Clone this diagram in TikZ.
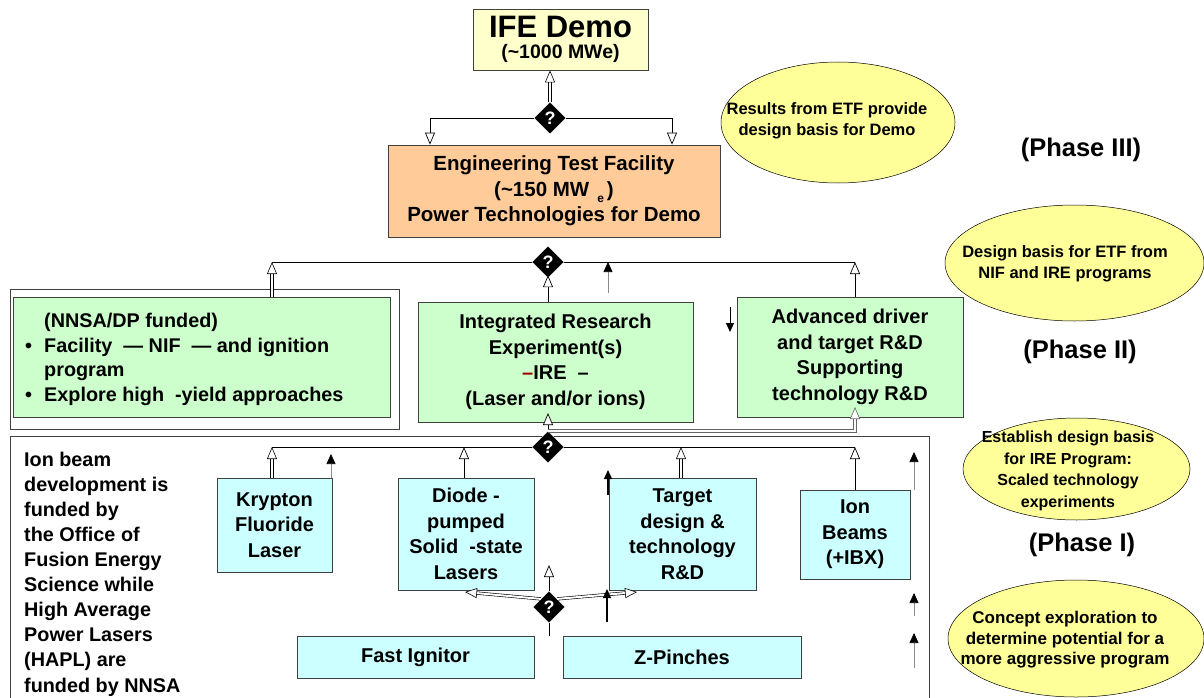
\documentclass[tikz,border=0pt]{standalone}
\usepackage{fontspec}
\setmainfont{Liberation Sans}
\usetikzlibrary{arrows.meta,shapes.geometric}
\definecolor{demoY}{HTML}{FFFFCC}
\definecolor{etfO}{HTML}{FFCC99}
\definecolor{grn}{HTML}{CCFFCC}
\definecolor{cyn}{HTML}{CCFFFF}
\definecolor{ellY}{HTML}{FFFF99}
\definecolor{dkred}{HTML}{990000}
\newcommand{\fsz}[2]{\fontsize{#1}{#2}\selectfont\bfseries}
\begin{document}
\begin{tikzpicture}[x=1pt,y=-1pt,
  box/.style={draw=black!75, line width=0.8pt, inner sep=0pt, align=center, font=\fsz{20}{25.5}},
  frame/.style={draw=black!75, line width=0.8pt, inner sep=0pt},
  ell/.style={ellipse, draw=black, line width=0.5pt, fill=ellY, inner sep=0pt},
  elltxt/.style={inner sep=0pt, align=center, font=\fsz{16.5}{20.5}},
  qd/.style={diamond, aspect=1, fill=black, draw=white, line width=0.4pt, minimum width=32pt, minimum height=32pt, inner sep=0pt, text=white, font=\fsz{18}{18}},
  phase/.style={font=\fsz{25.5}{25.5}, inner sep=0pt},
  txt/.style={inner sep=0pt, align=left, font=\fsz{19.8}{25.1}},
  ln/.style={draw=black, line width=0.7pt},
  hol/.style={ln, -{Triangle[fill=white, length=12pt, width=10pt]}},
  dbl/.style={hol, double, double distance=2pt, line width=0.6pt},
  sm/.style={draw=black!45, line width=0.6pt, -{Triangle[color=black, length=10pt, width=9pt]}},
  thk/.style={draw=black, line width=1.4pt, -{Triangle[length=9pt, width=8pt]}}
]
\useasboundingbox (0,0) rectangle (1204,698);
\fill[white] (0,0) rectangle (1204,698);

% ellipses
\node[ell, minimum width=234pt, minimum height=121pt] (e1) at (838,122.5) {};
\node[elltxt] (e1t) at (827,121) {Results from ETF provide\\design basis for Demo};
\node[ell, minimum width=259pt, minimum height=116pt] (e2) at (1074.5,263) {};
\node[elltxt] (e2t) at (1065,264) {Design basis for ETF from\\NIF and IRE programs};
\node[ell, minimum width=227pt, minimum height=102pt] (e3) at (1076.5,469) {};
\node[elltxt, font=\fsz{16}{21.5}] (e3t) at (1068,471) {Establish design basis\\for IRE Program:\\Scaled technology\\experiments};
\node[ell, minimum width=256pt, minimum height=117pt] (e4) at (1076,638.5) {};
\node[elltxt, font=\fsz{17}{20.5}] (e4t) at (1065,640) {Concept exploration to\\determine potential for a\\more aggressive program};

% phase labels
\node[phase] (p3) at (1081,150) {(Phase III)};
\node[phase] (p2) at (1080,352) {(Phase II)};
\node[phase] (p1) at (1082,545) {(Phase I)};

% frames
\node[frame, minimum width=389pt, minimum height=140pt] (nnsaframe) at (204.5,359) {};
\node[frame, minimum width=919pt, minimum height=276pt] (botframe) at (469.5,574) {};

% boxes
\node[box, fill=demoY, minimum width=175pt, minimum height=61pt] (demo) at (560.5,39.5)
  {{\fsz{31}{26}IFE Demo}\\[-4pt]{\fsz{19.5}{22}(\textasciitilde1000 MWe)}};
\node[box, fill=etfO, minimum width=332pt, minimum height=92pt, font=\fsz{20.5}{25.5}] (etf) at (554,191)
  {Engineering Test Facility\\(\textasciitilde150 MW\hspace{8pt}\raisebox{-6pt}{\fsz{12}{12}e}\hspace{3pt})\\Power Technologies for Demo};
\node[box, fill=grn, minimum width=377pt, minimum height=120pt] (nnsa) at (201.5,357) {};
\node[txt, font=\fsz{19.8}{24.5}, anchor=west] (nnsatxt) at (25,359.5)
  {\hspace*{19pt}(NNSA/DP funded)\\\makebox[19pt][l]{•}Facility \ — NIF \ — and ignition\\\hspace*{19pt}program\\\makebox[19pt][l]{•}Explore high \ -yield approaches};
\node[box, fill=grn, minimum width=275pt, minimum height=120pt] (ire) at (555.5,362)
  {Integrated Research\\Experiment(s)\\{\color{dkred}–}IRE \ –\\(Laser and/or ions)};
\node[box, fill=grn, minimum width=226pt, minimum height=120pt] (adv) at (850,357)
  {Advanced driver\\and target R\&D\\Supporting\\technology R\&D};

\node[txt, anchor=west] (ionfund) at (24,574)
  {Ion beam\\development is\\funded by\\the Office of\\Fusion Energy\\Science while\\High Average\\Power Lasers\\(HAPL) are\\funded by NNSA};

\node[box, fill=cyn, minimum width=115pt, minimum height=94pt] (kr) at (274.5,525) {Krypton\\Fluoride\\Laser};
\node[box, fill=cyn, minimum width=136pt, minimum height=112pt] (diode) at (466,534) {Diode -\\pumped\\Solid \ -state\\Lasers};
\node[box, fill=cyn, minimum width=147pt, minimum height=112pt] (target) at (682.5,534) {Target\\design \&\\technology\\R\&D};
\node[box, fill=cyn, minimum width=110pt, minimum height=89pt] (ion) at (855,534.5) {Ion\\Beams\\(+IBX)};
\node[box, fill=cyn, minimum width=237pt, minimum height=42pt] (fast) at (415.5,657) {Fast Ignitor};
\node[box, fill=cyn, minimum width=238pt, minimum height=42pt] (zp) at (682,657) {Z-Pinches};

% coordinates
\coordinate (L2) at (272,262);
\coordinate (R2) at (855,262);
\coordinate (L3) at (272,447);
\coordinate (R3) at (855,447);
\coordinate (D3) at (464,447);
\coordinate (T3) at (681,447);
\coordinate (ireIn) at (548,413);
\coordinate (c431) at (548,431);
\coordinate (advIn) at (855,407);

% horizontal bus lines
\draw[ln] (L2) -- (R2);
\draw[ln] (L3) -- (R3);

% diamonds
\node[qd] (d1) at (550,118) {?};
\node[qd] (d2) at (548,262) {?};
\node[qd] (d3) at (548,447) {?};
\node[qd] (d4) at (549,607) {?};

% top connectors
\draw[dbl] (d1.north) -- (d1.north |- demo.south);
\draw[hol] (d1.west) -| ([xshift=-124pt]etf.north);
\draw[hol] (d1.east) -| ([xshift=118pt]etf.north);

% phase II connectors
\draw[dbl] (L2 |- nnsa.north) -- (L2);
\draw[hol] (d2 |- ire.north) -- ([yshift=3pt]d2.south);
\draw[hol] (R2 |- adv.north) -- (R2);
\coordinate (s1a) at (608,293); \coordinate (s1b) at (608,262);
\draw[sm] (s1a) -- (s1b);
\coordinate (dn1) at (730,307); \coordinate (dn2) at (730,332);
\draw[draw=black, line width=1pt, -{Triangle[length=9pt, width=8pt]}] (dn1) -- (dn2);

% phase I connectors
\draw[hol] (d3.north) -- (ireIn);
\draw[dbl, draw=black!60] (c431) -| (advIn);
\draw[dbl] (L3 |- kr.north) -- (L3);
\draw[hol] (D3 |- diode.north) -- (D3);
\draw[dbl] (T3 |- target.north) -- (T3);
\draw[hol] (R3 |- ion.north) -- (R3);

\coordinate (s2a) at (331,478); \coordinate (s2b) at (331,454);
\draw[sm] (s2a) -- (s2b);
\coordinate (t1a) at (608,495); \coordinate (t1b) at (608,470);
\draw[thk] (t1a) -- (t1b);
\coordinate (s3a) at (914,490); \coordinate (s3b) at (914,452);
\draw[sm] (s3a) -- (s3b);
\coordinate (s4a) at (914,616); \coordinate (s4b) at (914,593);
\draw[sm] (s4a) -- (s4b);
\coordinate (s5a) at (914,668); \coordinate (s5b) at (914,633);
\draw[sm] (s5a) -- (s5b);

% bottom diamond connectors
\coordinate (u4) at (549,565);
\coordinate (l4) at (465,592);
\coordinate (r4) at (637,592);
\coordinate (b4) at (549,636);
\draw[ln, line width=0.5pt] (d4.south) -- (b4);
\draw[hol] (d4.north) -- (u4);
\draw[dbl] (d4.north west) -- (l4);
\draw[dbl] (d4.north east) -- (r4);
\coordinate (t2a) at (607,622); \coordinate (t2b) at (607,589);
\draw[thk] (t2a) -- (t2b);
\end{tikzpicture}
\end{document}
